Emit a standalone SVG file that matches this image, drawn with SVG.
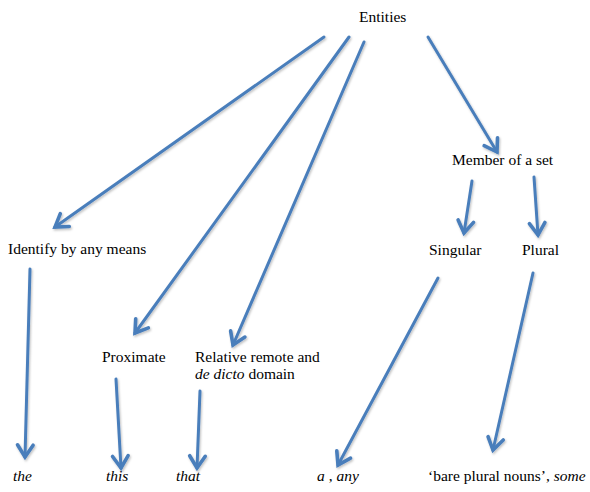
<svg xmlns="http://www.w3.org/2000/svg" width="590" height="492" viewBox="0 0 590 492">
  <style>
    text { font-family: 'Liberation Serif', 'Times New Roman', Times, 'DejaVu Serif', serif; font-size: 15.5px; fill: #000; }
    .i { font-style: italic; }
    .c { stroke: #4A7EBB; stroke-width: 3; fill: none; stroke-linecap: round; }
  </style>
  <defs>
    <marker id="ah" markerUnits="userSpaceOnUse" markerWidth="24" markerHeight="24" viewBox="-14 -10 18 20" refX="0" refY="0" orient="auto">
      <path d="M-10,-6.5 L0,0 L-10,6.5" fill="none" stroke="#4A7EBB" stroke-width="3" stroke-linejoin="miter" stroke-linecap="round"/>
    </marker>
    <filter id="sh" x="-10%" y="-10%" width="120%" height="120%">
      <feDropShadow dx="1" dy="1.5" stdDeviation="1" flood-color="#000" flood-opacity="0.25"/>
    </filter>
  </defs>
  <rect width="590" height="492" fill="#fff"/>
  <g id="connectors" filter="url(#sh)">
    <line class="c" x1="324" y1="37" x2="55" y2="227" marker-end="url(#ah)"/>
    <line class="c" x1="349" y1="37" x2="135" y2="333" marker-end="url(#ah)"/>
    <line class="c" x1="364" y1="42" x2="233" y2="345" marker-end="url(#ah)"/>
    <line class="c" x1="428" y1="37" x2="497" y2="152" marker-end="url(#ah)"/>
    <line class="c" x1="472" y1="181" x2="464" y2="233" marker-end="url(#ah)"/>
    <line class="c" x1="534" y1="177" x2="538" y2="235" marker-end="url(#ah)"/>
    <line class="c" x1="30" y1="269" x2="25" y2="457" marker-end="url(#ah)"/>
    <line class="c" x1="438" y1="278" x2="338" y2="465" marker-end="url(#ah)"/>
    <line class="c" x1="533" y1="273" x2="493" y2="450" marker-end="url(#ah)"/>
    <line class="c" x1="116" y1="379" x2="121" y2="468" marker-end="url(#ah)"/>
    <line class="c" x1="200" y1="391" x2="197" y2="468" marker-end="url(#ah)"/>
  </g>
  <g id="entities"><text x="359" y="22">Entities</text></g>
  <g id="member"><text x="452" y="165">Member of a set</text></g>
  <g id="identify"><text x="8" y="254">Identify by any means</text></g>
  <g id="singular"><text x="429" y="255">Singular</text></g>
  <g id="plural"><text x="522" y="255">Plural</text></g>
  <g id="proximate"><text x="102" y="362">Proximate</text></g>
  <g id="remote">
    <text x="195" y="362">Relative remote and</text>
    <text x="195" y="379"><tspan class="i">de dicto</tspan> domain</text>
  </g>
  <g id="the"><text class="i" x="13" y="481">the</text></g>
  <g id="this"><text class="i" x="106" y="481">this</text></g>
  <g id="that"><text class="i" x="176" y="481">that</text></g>
  <g id="a-any"><text x="317" y="481"><tspan class="i">a</tspan> , <tspan class="i">any</tspan></text></g>
  <g id="bare-plural"><text x="428" y="481">‘bare plural nouns’, <tspan class="i">some</tspan></text></g>
</svg>
